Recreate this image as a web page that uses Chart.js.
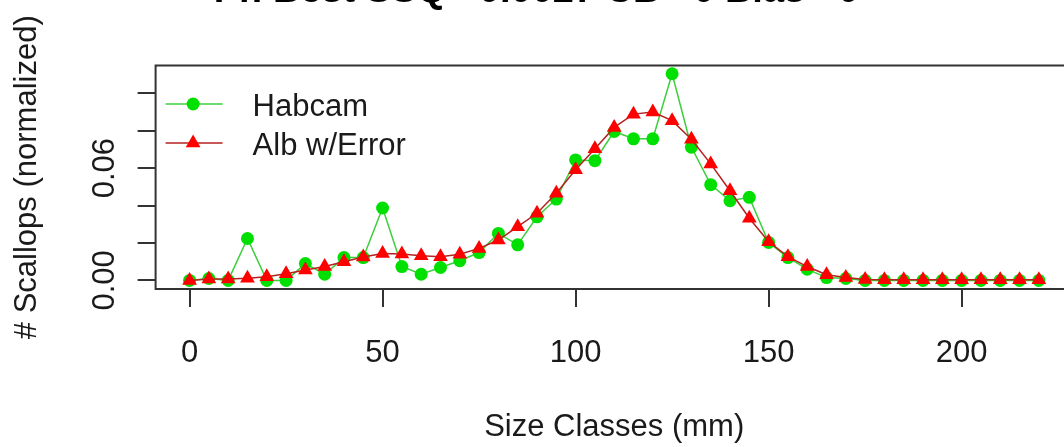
<!DOCTYPE html>
<html>
<head>
<meta charset="utf-8">
<title>Size class comparison</title>
<script src="https://cdn.jsdelivr.net/npm/chart.js@4.4.1/dist/chart.umd.min.js"></script>
<style>
  html, body { margin: 0; padding: 0; overflow: hidden; background: #fff; }
  /* canvas is taller/wider than the window so the title and right frame run off the edge */
  #wrap { position: absolute; left: 0; top: -40px; width: 1090px; height: 487px; }
</style>
</head>
<body>
<div id="wrap"><canvas id="sizeChart"></canvas></div>
<script>
// ========== Data ==========
const sizeClasses = [0, 5, 10, 15, 20, 25, 30, 35, 40, 45, 50, 55, 60, 65, 70, 75, 80, 85, 90, 95,
  100, 105, 110, 115, 120, 125, 130, 135, 140, 145, 150, 155, 160, 165, 170, 175, 180, 185, 190, 195,
  200, 205, 210, 215, 220];

const habcam = [0, 0.001, 0, 0.0224, 0, 0, 0.009, 0.0033, 0.0122, 0.0122,
  0.0387, 0.0074, 0.0033, 0.0069, 0.0105, 0.0149, 0.0251, 0.019, 0.034, 0.0435,
  0.0644, 0.064, 0.0796, 0.0757, 0.0757, 0.1105, 0.0712, 0.0512, 0.0426, 0.0444,
  0.0203, 0.0122, 0.006, 0.0015, 0.001, 0, 0, 0, 0, 0,
  0, 0, 0, 0, 0];

const albError = [0, 0.0008, 0.0008, 0.0012, 0.002, 0.0036, 0.0056, 0.0074, 0.01, 0.0125,
  0.0144, 0.0141, 0.0132, 0.0127, 0.014, 0.0171, 0.0216, 0.0287, 0.0359, 0.0466,
  0.0591, 0.0704, 0.0818, 0.0889, 0.09, 0.0854, 0.0755, 0.0623, 0.0479, 0.0332,
  0.0207, 0.0127, 0.0074, 0.003, 0.0016, 0.0005, 0.0003, 0.0003, 0.0003, 0.0003,
  0.0003, 0.0003, 0.0003, 0.0003, 0.0003];

const xTicks = [0, 50, 100, 150, 200];
const yTicks = [0, 0.02, 0.04, 0.06, 0.08, 0.10];
const yTickLabels = [0, 0.06];   // only these get a printed label

const titleText = 'Pr. Best SSQ= 0.0027 CB= 0 Bias= 0';
const seriesNames = ['Habcam', 'Alb w/Error'];

// ========== Style ==========
const FONT = '"Liberation Sans", Arial, sans-serif';
const INK = '#1a1a1a';
const GREEN = '#00e000';
const GREEN_LINE = '#3ccf3c';
const RED = '#ff0000';
const RED_LINE = '#b52020';

Chart.defaults.font.family = FONT;
Chart.defaults.color = INK;

// plot frame around the chart area
const framePlugin = {
  id: 'frame',
  afterDraw(chart) {
    const { ctx, chartArea: a } = chart;
    ctx.save();
    ctx.strokeStyle = '#333';
    ctx.lineWidth = 2;
    ctx.strokeRect(a.left, a.top, a.right - a.left, a.bottom - a.top);
    ctx.restore();
  }
};

// rotated y tick labels
const yLabelPlugin = {
  id: 'yLabels',
  afterDraw(chart) {
    const { ctx } = chart;
    const y = chart.scales.y;
    ctx.save();
    ctx.font = '31px ' + FONT;
    ctx.fillStyle = INK;
    ctx.textAlign = 'center';
    ctx.textBaseline = 'middle';
    yTickLabels.forEach(v => {
      ctx.save();
      ctx.translate(y.right - 50, y.getPixelForValue(v));
      ctx.rotate(-Math.PI / 2);
      ctx.fillText(v.toFixed(2), 0, 0);
      ctx.restore();
    });
    ctx.restore();
  }
};

// legend with line + marker, no box
const legendPlugin = {
  id: 'lineLegend',
  afterDraw(chart) {
    const { ctx, chartArea: a } = chart;
    const rows = [
      { name: seriesNames[0], line: GREEN_LINE, fill: GREEN, shape: 'circle', dy: 38.5 },
      { name: seriesNames[1], line: RED_LINE, fill: RED, shape: 'triangle', dy: 77.5 }
    ];
    ctx.save();
    rows.forEach(r => {
      const yy = a.top + r.dy;
      const x0 = a.left + 10, x1 = a.left + 67, xm = a.left + 37.5;
      ctx.strokeStyle = r.line;
      ctx.lineWidth = 1.5;
      ctx.beginPath();
      ctx.moveTo(x0, yy);
      ctx.lineTo(x1, yy);
      ctx.stroke();
      ctx.fillStyle = r.fill;
      ctx.beginPath();
      if (r.shape === 'circle') {
        ctx.arc(xm, yy, 6.5, 0, Math.PI * 2);
      } else {
        const rad = 8.5;
        ctx.moveTo(xm, yy - rad);
        ctx.lineTo(xm + rad * 0.866, yy + rad / 2);
        ctx.lineTo(xm - rad * 0.866, yy + rad / 2);
        ctx.closePath();
      }
      ctx.fill();
      ctx.fillStyle = INK;
      ctx.font = '31px ' + FONT;
      ctx.textAlign = 'left';
      ctx.textBaseline = 'middle';
      ctx.fillText(r.name, a.left + 97, yy + 3);
    });
    ctx.restore();
  }
};

const tickGrid = {
  drawOnChartArea: false,
  drawTicks: true,
  tickLength: 18,
  color: '#333',
  lineWidth: 2
};

new Chart(document.getElementById('sizeChart'), {
  type: 'line',
  data: {
    datasets: [
      {
        label: seriesNames[0],
        data: sizeClasses.map((x, i) => ({ x, y: habcam[i] })),
        borderColor: GREEN_LINE,
        borderWidth: 1.5,
        pointStyle: 'circle',
        pointRadius: 6.5,
        pointBackgroundColor: GREEN,
        pointBorderWidth: 0,
        tension: 0,
        order: 1
      },
      {
        label: seriesNames[1],
        data: sizeClasses.map((x, i) => ({ x, y: albError[i] })),
        borderColor: RED_LINE,
        borderWidth: 1.5,
        pointStyle: 'triangle',
        pointRadius: 8.5,
        pointBackgroundColor: RED,
        pointBorderWidth: 0,
        tension: 0,
        order: 0
      }
    ]
  },
  options: {
    responsive: true,
    maintainAspectRatio: false,
    animation: false,
    events: [],
    layout: { padding: { left: 0, right: 17.2, top: 0, bottom: 0 } },
    plugins: {
      legend: { display: false },
      tooltip: { enabled: false },
      title: {
        display: true,
        text: titleText,
        color: '#000',
        font: { size: 38, weight: 'bold', lineHeight: 1 },
        padding: { top: 13, bottom: 54.5 }
      }
    },
    scales: {
      x: {
        type: 'linear',
        min: -8.8,
        max: 228.8,
        afterBuildTicks: s => { s.ticks = xTicks.map(v => ({ value: v })); },
        afterFit: s => { s.height = 158; },
        ticks: {
          color: INK,
          font: { size: 31, lineHeight: 1 },
          padding: 31,
          maxRotation: 0,
          autoSkip: false,
          callback: v => String(v)
        },
        grid: tickGrid,
        border: { display: false },
        title: {
          display: true,
          text: 'Size Classes (mm)',
          color: INK,
          font: { size: 31, lineHeight: 1 },
          padding: { top: 0, bottom: 4.5 }
        }
      },
      y: {
        type: 'linear',
        min: -0.0046,
        max: 0.1149,
        afterBuildTicks: s => { s.ticks = yTicks.map(v => ({ value: v })); },
        afterFit: s => { s.width = 155.6; },
        ticks: { display: false },
        grid: tickGrid,
        border: { display: false },
        title: {
          display: true,
          text: '# Scallops (normalized)',
          color: INK,
          font: { size: 31, lineHeight: 1 },
          padding: { top: 12, bottom: 0 }
        }
      }
    }
  },
  plugins: [framePlugin, yLabelPlugin, legendPlugin]
});
</script>
</body>
</html>
